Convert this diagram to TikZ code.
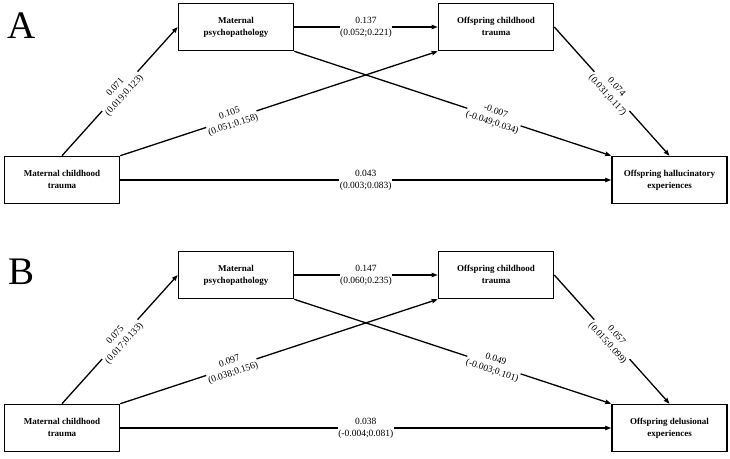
\documentclass[tikz,border=0pt]{standalone}
\usepackage{fontspec}
\setmainfont{Liberation Serif}
\usepackage{tikz}
\usetikzlibrary{arrows.meta,positioning}
\newcommand{\doslineas}[2]{\begin{tabular}{@{}c@{}}#1\\#2\end{tabular}}
\tikzset{
  caja/.style={draw=black,line width=1.6pt,fill=white,minimum width=115pt,minimum height=47pt,inner sep=1pt,font=\fontsize{9}{11.5}\selectfont\bfseries},
  flecha/.style={draw=black,line width=1.3pt,-{Stealth[length=6pt,width=4.5pt,inset=0.6pt]}},
  coef/.style={fill=white,inner sep=0.5pt,font=\fontsize{9.5}{12}\selectfont},
  panel/.style={font=\fontsize{39}{40}\selectfont,inner sep=0pt},
}
\begin{document}
\begin{tikzpicture}[x=1pt,y=1pt]
  \useasboundingbox (0,0) rectangle (730,458);
  % panel A
  \node[panel] (letraA) at (22,432) {A};
  \node[caja] (mpA) at (236,431) {\doslineas{Maternal}{psychopathology}};
  \node[caja] (octA) at (496,431) {\doslineas{Offspring childhood}{trauma}};
  \node[caja] (mctA) at (62,278) {\doslineas{Maternal childhood}{trauma}};
  \node[caja] (oheA) at (669.5,278) {\doslineas{Offspring hallucinatory}{experiences}};
  \draw[flecha] (mctA.north) -- node[coef,sloped] {\doslineas{0.071}{(0.019;0.123)}} (mpA.west);
  \draw[flecha] (mctA.north east) -- node[coef,sloped,pos=0.35] {\doslineas{0.105}{(0.051;0.158)}} (octA.south west);
  \draw[flecha] (mpA.south east) -- node[coef,sloped,pos=0.63] {\doslineas{-0.007}{(-0.049;0.034)}} (oheA.north west);
  \draw[flecha] (mpA.east) -- node[coef] {\doslineas{0.137}{(0.052;0.221)}} (octA.west);
  \draw[flecha] (octA.east) -- node[coef,sloped] {\doslineas{0.074}{(0.031;0.117)}} (oheA.north);
  \draw[flecha] (mctA.east) -- node[coef] {\doslineas{0.043}{(0.003;0.083)}} (oheA.west);
  % panel B
  \node[panel] (letraB) at (22,186) {B};
  \node[caja] (mpB) at (236,183) {\doslineas{Maternal}{psychopathology}};
  \node[caja] (octB) at (496,183) {\doslineas{Offspring childhood}{trauma}};
  \node[caja] (mctB) at (62,30) {\doslineas{Maternal childhood}{trauma}};
  \node[caja] (odeB) at (669.5,30) {\doslineas{Offspring delusional}{experiences}};
  \draw[flecha] (mctB.north) -- node[coef,sloped] {\doslineas{0.075}{(0.017;0.133)}} (mpB.west);
  \draw[flecha] (mctB.north east) -- node[coef,sloped,pos=0.35] {\doslineas{0.097}{(0.038;0.156)}} (octB.south west);
  \draw[flecha] (mpB.south east) -- node[coef,sloped,pos=0.63] {\doslineas{0.049}{(-0.003;0.101)}} (odeB.north west);
  \draw[flecha] (mpB.east) -- node[coef] {\doslineas{0.147}{(0.060;0.235)}} (octB.west);
  \draw[flecha] (octB.east) -- node[coef,sloped] {\doslineas{0.057}{(0.015;0.099)}} (odeB.north);
  \draw[flecha] (mctB.east) -- node[coef] {\doslineas{0.038}{(-0.004;0.081)}} (odeB.west);
\end{tikzpicture}
\end{document}
